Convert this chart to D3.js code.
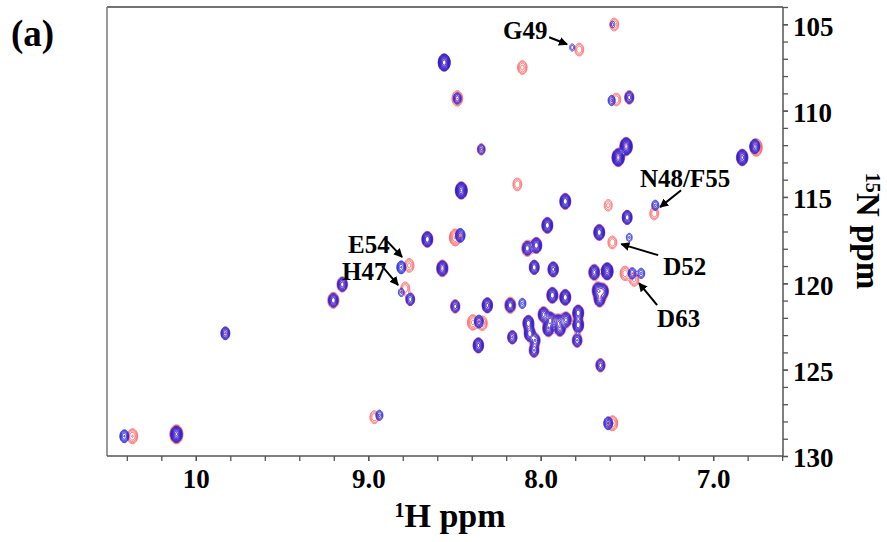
<!DOCTYPE html>
<html>
<head>
<meta charset="utf-8">
<script src="https://cdn.jsdelivr.net/npm/d3@7"></script>
<style>
body { margin: 0; background: #fff; }
svg text { font-family: "Liberation Serif", "Times New Roman", serif; font-weight: bold; fill: #000; }
</style>
</head>
<body>
<div id="chart"></div>
<script>
'use strict'

// peaks: [1H ppm, 15N ppm, height]
const redPeaks = [
	[7.575, 105.0, 4], [7.778, 106.45, 4], [8.561, 107.20, 14], [8.108, 107.49, 5],
	[8.485, 109.28, 8], [8.346, 112.23, 3], [8.137, 114.26, 4], [7.563, 109.34, 4],
	[7.488, 109.22, 5], [7.552, 112.70, 20], [7.506, 112.06, 20], [6.833, 112.70, 12],
	[6.752, 112.12, 15], [8.462, 114.61, 15], [7.859, 115.24, 10], [7.610, 115.47, 3],
	[7.343, 115.94, 4], [7.500, 116.17, 6], [7.963, 116.63, 10], [8.659, 117.44, 10],
	[8.497, 117.33, 12], [7.662, 117.04, 10], [7.586, 117.62, 4], [8.079, 117.96, 10],
	[8.027, 117.79, 10], [8.572, 119.12, 12], [8.039, 119.06, 6], [7.929, 119.18, 8],
	[7.691, 119.35, 10], [7.616, 119.29, 15], [7.512, 119.41, 6], [7.460, 119.76, 5],
	[8.764, 118.95, 5], [8.787, 120.28, 4], [8.758, 120.91, 4], [9.152, 120.05, 8],
	[9.204, 120.97, 10], [9.830, 122.88, 3], [10.369, 128.84, 7], [10.114, 128.73, 25],
	[8.966, 127.74, 4], [8.497, 121.32, 5], [8.311, 121.26, 8], [8.178, 121.26, 10],
	[8.395, 122.25, 8], [8.340, 122.30, 6], [8.073, 122.30, 10], [8.065, 122.90, 10],
	[8.033, 123.29, 6], [8.040, 123.87, 6], [7.985, 121.80, 10], [7.946, 122.13, 14],
	[7.900, 122.25, 12], [7.855, 122.10, 10], [7.957, 122.60, 12], [7.890, 122.60, 10],
	[7.934, 120.68, 10], [7.859, 120.80, 10], [7.784, 121.70, 10], [7.784, 122.40, 10],
	[7.790, 123.29, 6], [8.166, 123.11, 5], [7.670, 120.40, 12], [7.640, 120.45, 10],
	[7.660, 120.90, 10], [8.363, 123.58, 8], [7.655, 124.73, 5], [7.585, 128.09, 7]
]
const bluePeaks = [
	[7.585, 105.0, 1.5], [7.819, 106.33, 1.6], [8.561, 107.20, 25], [8.485, 109.28, 4],
	[8.346, 112.23, 3], [7.590, 109.40, 3], [7.488, 109.22, 5], [7.552, 112.70, 25],
	[7.506, 112.06, 25], [6.833, 112.70, 15], [6.760, 112.06, 10], [8.462, 114.61, 20],
	[7.859, 115.24, 12], [7.337, 115.47, 3], [7.500, 116.17, 8], [7.963, 116.63, 12],
	[8.659, 117.44, 12], [8.468, 117.21, 8], [7.662, 117.04, 12], [7.488, 117.33, 2],
	[8.079, 117.96, 8], [8.027, 117.79, 12], [8.572, 119.12, 12], [8.039, 119.06, 8],
	[7.929, 119.18, 10], [7.691, 119.35, 10], [7.616, 119.29, 20], [7.471, 119.41, 4],
	[7.419, 119.41, 3], [8.810, 119.06, 6], [8.810, 120.51, 2], [8.758, 120.91, 5],
	[9.152, 120.05, 8], [9.204, 120.97, 8], [9.830, 122.88, 6], [10.416, 128.84, 6],
	[10.114, 128.73, 20], [8.937, 127.63, 3], [8.497, 121.32, 5], [8.311, 121.26, 10],
	[8.178, 121.26, 8], [8.108, 121.15, 3], [8.360, 122.20, 6], [8.073, 122.30, 12],
	[8.065, 122.90, 12], [8.033, 123.29, 6], [8.040, 123.87, 6], [7.985, 121.80, 10],
	[7.946, 122.13, 15], [7.900, 122.25, 12], [7.855, 122.10, 10], [7.957, 122.60, 12],
	[7.890, 122.60, 10], [7.934, 120.68, 12], [7.859, 120.80, 12], [7.784, 121.70, 12],
	[7.784, 122.40, 12], [7.790, 123.29, 6], [8.166, 123.11, 6], [7.670, 120.40, 12],
	[7.640, 120.45, 10], [7.660, 120.90, 10], [8.363, 123.58, 10], [7.655, 124.73, 5],
	[7.610, 128.09, 6]
]

const xTicks = [10, 9, 8, 7]
const xTickLabels = ["10", "9.0", "8.0", "7.0"]
const yTicks = [105, 110, 115, 120, 125, 130]

// assignment labels, text corner and arrow in ppm
const labels = [
	{ text: "G49", h: 8.218, n: 105.87, from: [7.951, 105.75], to: [7.847, 106.16] },
	{ text: "N48/F55", h: 7.424, n: 114.43, from: [7.186, 114.61], to: [7.308, 115.59] },
	{ text: "E54", h: 9.117, n: 118.25, from: [8.891, 117.56], to: [8.804, 118.48] },
	{ text: "H47", h: 9.152, n: 119.81, from: [8.920, 119.00], to: [8.827, 120.10] },
	{ text: "D52", h: 7.290, n: 119.53, from: [7.319, 118.37], to: [7.533, 117.73] },
	{ text: "D63", h: 7.325, n: 122.53, from: [7.325, 121.26], to: [7.430, 119.99] }
]

// line widths (ppm), red spectrum a little broader
const sigH = 0.0132, sigN = 0.19
const redBroad = 1.12
const redLevels = d3.range(0, 8).map(function(k){ return 0.9 * Math.pow(1.65, k) })
const blueLevels = d3.range(0, 10).map(function(k){ return 0.9 * Math.pow(1.45, k) })

const width = 887, height = 542
const plot = { left: 107, top: 7, right: 783, bottom: 456 }

const x = d3.scaleLinear().domain([10.515, 6.595]).range([plot.left, plot.right])
const y = d3.scaleLinear().domain([104, 130]).range([plot.top, plot.bottom])

const svg = d3.select("#chart").append("svg")
	.attr("width", width)
	.attr("height", height)

// contour grid, 2 samples per px
const res = 2
const gw = (plot.right - plot.left) * res
const gh = (plot.bottom - plot.top) * res

function makeGrid(peaks, broad){
	let v = new Float64Array(gw * gh)
	peaks.forEach(function(p){
		let cx = (x(p[0]) - plot.left) * res
		let cy = (y(p[1]) - plot.top) * res
		let sx = Math.abs(x(p[0] + sigH * broad) - x(p[0])) * res
		let sy = Math.abs(y(p[1] + sigN * broad) - y(p[1])) * res
		let i0 = Math.max(0, Math.floor(cx - 4 * sx)), i1 = Math.min(gw - 1, Math.ceil(cx + 4 * sx))
		let j0 = Math.max(0, Math.floor(cy - 4 * sy)), j1 = Math.min(gh - 1, Math.ceil(cy + 4 * sy))
		for (let j = j0; j <= j1; j++){
			let dy = (j - cy) / sy
			for (let i = i0; i <= i1; i++){
				let dx = (i - cx) / sx
				v[j * gw + i] += p[2] * Math.exp(-0.5 * (dx * dx + dy * dy))
			}
		}
	})
	return v
}

const proj = d3.geoIdentity().scale(1 / res).translate([plot.left, plot.top])
const path = d3.geoPath(proj)

function drawSpectrum(peaks, broad, levels, color, op, sw){
	let c = d3.contours().size([gw, gh]).thresholds(levels)(makeGrid(peaks, broad))
	svg.append("g")
		.selectAll("path")
		.data(c)
		.enter()
		.append("path")
		.attr("d", path)
		.attr("fill", "none")
		.attr("stroke", color)
		.attr("stroke-width", sw)
		.attr("stroke-opacity", op)
		.attr("stroke-linejoin", "round")
}

drawSpectrum(redPeaks, redBroad, redLevels, "#ff3535", 0.85, 0.85)
drawSpectrum(bluePeaks, 1, blueLevels, "#2020dc", 1, 0.95)

// frame
svg.append("line").attr("x1", plot.left).attr("x2", plot.right).attr("y1", plot.top).attr("y2", plot.top)
	.attr("stroke", "#444").attr("stroke-width", 1.5)
svg.append("line").attr("x1", plot.left).attr("x2", plot.left).attr("y1", plot.top).attr("y2", plot.bottom)
	.attr("stroke", "#777").attr("stroke-width", 1.5)

// bottom axis
let xMinor = d3.range(66, 105, 2).map(function(d){ return d / 10 })
svg.append("g").attr("class", "axis")
	.attr("transform", "translate(0," + plot.bottom + ")")
	.call(d3.axisBottom(x).tickValues(xMinor).tickSize(5).tickSizeOuter(0).tickFormat(""))
let xa = svg.append("g").attr("class", "axis")
	.attr("transform", "translate(0," + plot.bottom + ")")
	.call(d3.axisBottom(x).tickValues(xTicks).tickSize(5).tickPadding(8)
		.tickFormat(function(d, i){ return xTickLabels[i] }))
xa.selectAll("text").style("font-size", "27px")

// right axis
svg.append("g").attr("class", "axis")
	.attr("transform", "translate(" + plot.right + ",0)")
	.call(d3.axisRight(y).tickValues(d3.range(104, 131)).tickSize(5).tickSizeOuter(0).tickFormat(""))
let ya = svg.append("g").attr("class", "axis")
	.attr("transform", "translate(" + plot.right + ",0)")
	.call(d3.axisRight(y).tickValues(yTicks).tickSize(5).tickPadding(5))
ya.selectAll("text").style("font-size", "27px").attr("dy", "0.4em")

svg.selectAll(".axis path, .axis line").attr("stroke", "#555").attr("stroke-width", 1.3)
svg.selectAll(".axis .domain").remove()
svg.append("line").attr("x1", plot.left).attr("x2", plot.right).attr("y1", plot.bottom).attr("y2", plot.bottom)
	.attr("stroke", "#555").attr("stroke-width", 1.5)
svg.append("line").attr("x1", plot.right).attr("x2", plot.right).attr("y1", plot.top).attr("y2", plot.bottom)
	.attr("stroke", "#555").attr("stroke-width", 1.5)

// axis titles
let xt = svg.append("text").attr("x", 450).attr("y", 527).attr("text-anchor", "middle").style("font-size", "34px")
xt.append("tspan").text("1").style("font-size", "20px").attr("dy", -10)
xt.append("tspan").text("H ppm").attr("dy", 10)

let yt = svg.append("text").attr("transform", "translate(857,231) rotate(90)").attr("text-anchor", "middle").style("font-size", "33px")
yt.append("tspan").text("15").style("font-size", "20px").attr("dy", -9)
yt.append("tspan").text("N ppm").attr("dy", 9)

svg.append("text").attr("x", 11).attr("y", 46).style("font-size", "37px").text("(a)")

// labels with arrows
svg.append("defs").append("marker")
	.attr("id", "head")
	.attr("viewBox", "0 0 10 10")
	.attr("refX", 9).attr("refY", 5)
	.attr("markerWidth", 4.5).attr("markerHeight", 4.5)
	.attr("orient", "auto")
	.append("path").attr("d", "M0,0 L10,5 L0,10 z").attr("fill", "#000")

let lg = svg.append("g")
lg.selectAll("text").data(labels).enter().append("text")
	.attr("x", function(d){ return x(d.h) })
	.attr("y", function(d){ return y(d.n) })
	.style("font-size", "25px")
	.text(function(d){ return d.text })
lg.selectAll("line").data(labels).enter().append("line")
	.attr("x1", function(d){ return x(d.from[0]) })
	.attr("y1", function(d){ return y(d.from[1]) })
	.attr("x2", function(d){ return x(d.to[0]) })
	.attr("y2", function(d){ return y(d.to[1]) })
	.attr("stroke", "#000")
	.attr("stroke-width", 2)
	.attr("marker-end", "url(#head)")
</script>
</body>
</html>
